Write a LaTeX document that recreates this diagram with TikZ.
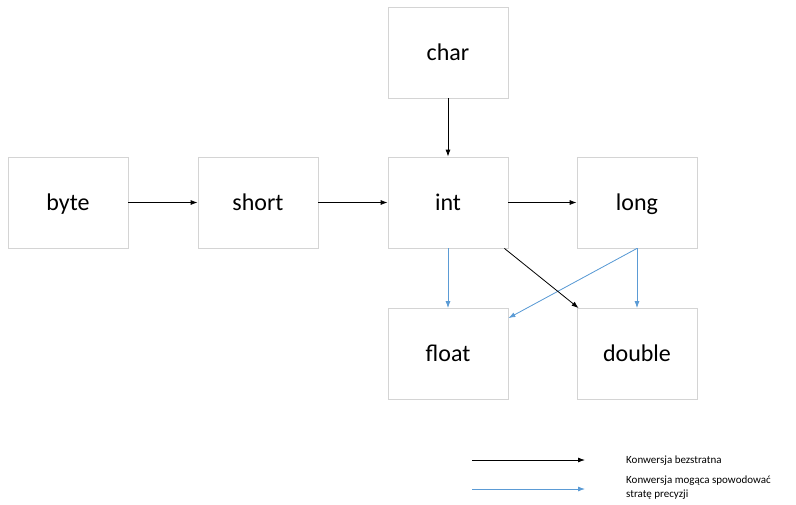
\documentclass[tikz,border=0pt]{standalone}
\usepackage{fontspec}
\setmainfont{Carlito}
\usepackage{xcolor}
\usetikzlibrary{arrows.meta}

\definecolor{boxline}{HTML}{D4D4D4}
\definecolor{lossyblue}{HTML}{5B9BD5}

\tikzset{
  typebox/.style={draw=boxline,line width=0.8pt,fill=white,minimum width=120pt,minimum height=91pt,inner sep=0pt,text height=19pt,text depth=4pt,font=\fontsize{24}{28}\selectfont},
  exact/.style={-{Latex[length=7pt,width=5pt]},line width=0.8pt,black},
  lossy/.style={-{Latex[length=7pt,width=5pt]},line width=0.8pt,draw=lossyblue,fill=lossyblue}
}

\begin{document}
\begin{tikzpicture}[x=1pt,y=-1pt]
        \useasboundingbox (0,0) rectangle (796,504);

        \node[typebox] (char) at (448,52.5) {char};
        \node[typebox] (byte) at (68,202.5) {byte};
        \node[typebox] (short) at (258,202.5) {short};
        \node[typebox] (int) at (448,202.5) {int};
        \node[typebox] (long) at (637,202.5) {long};
        \node[typebox] (float) at (448,354) {float};
        \node[typebox] (double) at (637,354) {double};

        \draw[exact] (char) -- (int);
        \draw[exact] (byte) -- (short);
        \draw[exact] (short) -- (int);
        \draw[exact] (int) -- (long);
        \draw[lossy] (int) -- (float);
        \draw[lossy] (long) -- (double);
        \draw[lossy] (long.south) -- ([yshift=-10pt]float.north east);
        \draw[exact] ([xshift=-4pt]int.south east) -- ([xshift=2pt]double.north west);

        % legenda
        \coordinate (ex1) at (472,460);
        \coordinate (ex2) at (585,460);
        \coordinate (lo1) at (472,489);
        \coordinate (lo2) at (585,489);
        \draw[exact] (ex1) -- (ex2);
        \draw[lossy] (lo1) -- (lo2);
        \node[anchor=west,inner sep=0pt,font=\fontsize{11}{14}\selectfont] (exlabel) at (626,461) {Konwersja bezstratna};
        \node[anchor=north west,inner sep=0pt,align=left,font=\fontsize{11}{14}\selectfont] (lolabel) at (626,476) {Konwersja mogąca spowodować\\stratę precyzji};
    \end{tikzpicture}
\end{document}
